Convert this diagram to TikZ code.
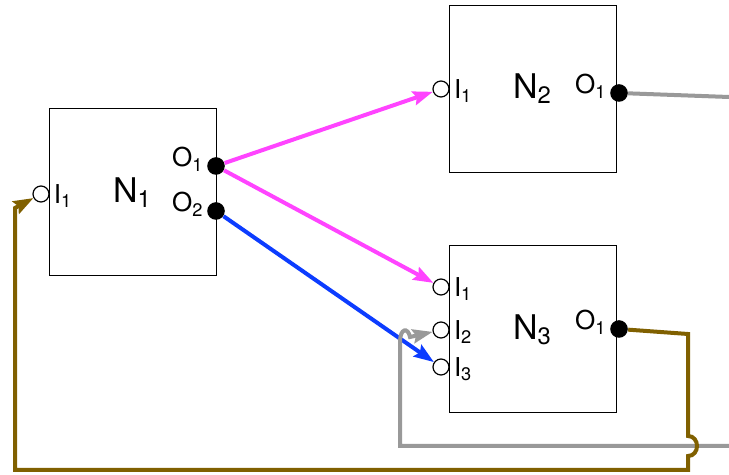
\documentclass[tikz,border=0pt]{standalone}
\usepackage{fontspec}
\setmainfont{TeX Gyre Heros}
\usepackage{tikz}
\usepackage{xcolor}
\usetikzlibrary{arrows.meta}

\definecolor{linkpink}{HTML}{FF44FF}
\definecolor{linkblue}{HTML}{0C3CFF}
\definecolor{linkgray}{HTML}{999999}
\definecolor{linkbrown}{HTML}{806000}

\begin{document}
\begin{tikzpicture}[x=0.5pt, y=-0.5pt,
  block/.style={draw, line width=0.5pt, minimum width=83.5pt, minimum height=83.5pt,
    inner sep=0pt, font=\fontsize{17}{18}\selectfont},
  inport/.style={circle, draw, fill=white, line width=0.6pt, minimum size=8pt, inner sep=0pt},
  outport/.style={circle, fill=black, minimum size=8.8pt, inner sep=0pt},
  ilabel/.style={font=\fontsize{13}{14}\selectfont, inner sep=2pt, yshift=-1pt},
  olabel/.style={font=\fontsize{13}{14}\selectfont, inner sep=1.5pt, yshift=3.5pt},
  wire/.style={line width=2pt},
  arrowwire/.style={wire, -{Stealth[length=10pt,width=7pt,inset=1.5pt]}}]
  \useasboundingbox (0,0) rectangle (729,475);

  % blocks
  \node[block] (n1) at (132.5,192.5) {N\textsubscript{1}};
  \node[block] (n2) at (532.5,89) {N\textsubscript{2}};
  \node[block] (n3) at (532.5,329.5) {N\textsubscript{3}};

  % ports of N1
  \node[inport, label={[ilabel]right:I\textsubscript{1}}] (n1i1) at (41,194) {};
  \node[outport, label={[olabel]left:O\textsubscript{1}}] (n1o1) at (216,166) {};
  \node[outport, label={[olabel]left:O\textsubscript{2}}] (n1o2) at (216,211) {};

  % ports of N2
  \node[inport, label={[ilabel]right:I\textsubscript{1}}] (n2i1) at (441,89) {};
  \node[outport, label={[olabel]left:O\textsubscript{1}}] (n2o1) at (619,93) {};

  % ports of N3
  \foreach \k/\y in {1/287, 2/330, 3/367}
    \node[inport, label={[ilabel]right:I\textsubscript{\k}}] (n3i\k) at (441,\y) {};
  \node[outport, label={[olabel]left:O\textsubscript{1}}] (n3o1) at (619,329) {};

  % loose ends on the right
  \coordinate (n2out) at (729,97);
  \coordinate (grayin) at (729,446);

  % N1 -> N2, N3
  \draw[arrowwire, linkpink] (n1o1) -- (n2i1);
  \draw[arrowwire, linkpink] (n1o1) -- (n3i1);
  \draw[arrowwire, linkblue] (n1o2) -- (n3i3);

  % N2 output
  \draw[wire, linkgray] (n2o1) -- (n2out);

  % feedback into N3, hopping over the blue line
  \draw[arrowwire, linkgray] (grayin) -- (400,446) -- (400,342)
    .. controls (400,328) and (408,327) .. (410,337) -- (n3i2);

  % feedback from N3 back to N1, hopping over the gray line
  \draw[arrowwire, linkbrown] (n3o1) -- (688,334) -- (688,436)
    .. controls (700,436) and (700,456) .. (688,456) -- (688,470)
    -- (15,470) -- (15,208) -- (n1i1);
\end{tikzpicture}
\end{document}
